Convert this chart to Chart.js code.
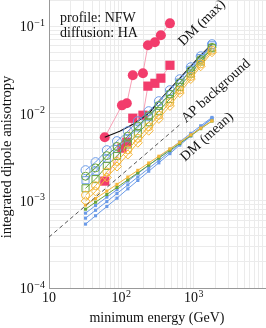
<!DOCTYPE html>
<html>
<head>
<meta charset="utf-8">
<script src="https://cdn.jsdelivr.net/npm/chart.js@4"></script>
<style>
  html, body { margin: 0; padding: 0; background: #fff; }
  canvas { display: block; }
</style>
</head>
<body>
<canvas id="anisoChart" width="266" height="328"></canvas>
<script>
// minimum energies (GeV) of the scan
const energies = [32, 44, 63, 87, 123, 169, 239, 330, 469, 642, 912, 1250, 1790];

// upper bundle (open markers)
const blueCircle   = [2.24e-3, 2.77e-3, 3.80e-3, 4.82e-3, 6.27e-3, 8.16e-3, 0.01063, 0.01384, 0.0185, 0.0247, 0.0339, 0.0453, 0.0622];
const blueSquare   = [1.72e-3, 2.17e-3, 3.03e-3, 3.92e-3, 5.21e-3, 6.92e-3, 9.19e-3, 0.0122, 0.01663, 0.02265, 0.03177, 0.04325, 0.0605];
const greenCircle  = [1.91e-3, 2.38e-3, 3.29e-3, 4.19e-3, 5.50e-3, 7.19e-3, 9.44e-3, 0.01236, 0.01663, 0.02234, 0.0309, 0.0416, 0.0574];
const greenSquare  = [1.39e-3, 1.77e-3, 2.51e-3, 3.27e-3, 4.42e-3, 5.92e-3, 7.94e-3, 0.01064, 0.01469, 0.02023, 0.0287, 0.0395, 0.056];
const yellowCircle = [1.16e-3, 1.49e-3, 2.14e-3, 2.82e-3, 3.83e-3, 5.19e-3, 7.06e-3, 9.55e-3, 0.01337, 0.01858, 0.0266, 0.037, 0.0531];
const yellowDiamond= [9.9e-4, 1.28e-3, 1.85e-3, 2.47e-3, 3.39e-3, 4.62e-3, 6.35e-3, 8.67e-3, 0.01222, 0.01718, 0.02483, 0.0348, 0.0504];

// lower bundle, DM (mean)
const meanYellow = [8.91e-4, 1.06e-3, 1.29e-3, 1.54e-3, 1.87e-3, 2.23e-3, 2.71e-3, 3.24e-3, 3.93e-3, 4.69e-3, 5.69e-3, 6.79e-3, 8.24e-3];
const meanGreen  = [8.01e-4, 9.63e-4, 1.18e-3, 1.42e-3, 1.74e-3, 2.09e-3, 2.56e-3, 3.08e-3, 3.78e-3, 4.54e-3, 5.57e-3, 6.70e-3, 8.20e-3];
const meanBlue1  = [7.21e-4, 8.81e-4, 1.10e-3, 1.34e-3, 1.68e-3, 2.05e-3, 2.55e-3, 3.12e-3, 3.89e-3, 4.74e-3, 5.92e-3, 7.23e-3, 9.02e-3];
const meanBlue2  = [6.32e-4, 7.78e-4, 9.79e-4, 1.21e-3, 1.52e-3, 1.87e-3, 2.35e-3, 2.90e-3, 3.64e-3, 4.49e-3, 5.64e-3, 6.93e-3, 8.71e-3];
const meanBlue3  = [5.40e-4, 6.73e-4, 8.59e-4, 1.07e-3, 1.37e-3, 1.71e-3, 2.18e-3, 2.72e-3, 3.47e-3, 4.34e-3, 5.52e-3, 6.89e-3, 8.84e-3];

// DM (max), pink
const maxEnergies = [59, 102, 119, 144, 199, 233, 291, 352, 470];
const maxCircle   = [0.00535, 0.0124, 0.0131, 0.0275, 0.029, 0.0605, 0.0656, 0.079, 0.108];
const maxSquare   = [1.68e-3, 4.01e-3, 4.69e-3, 8.83e-3, 9.57e-3, 0.0206, 0.0222, 0.0254, 0.0357];

// DM (max) envelope, black
const envEnergies = [59, 95, 154, 248, 341, 470, 646, 916, 1258, 1790];
const envValues   = [0.00535, 0.00627, 0.00774, 0.01035, 0.0142, 0.019, 0.0254, 0.0348, 0.0465, 0.0622];

// AP background, dashed
const apEnergies = [10, 650];
const apValues   = [3.83e-4, 7.5e-3];

const xGrid = [10, 20, 30, 40, 50, 60, 70, 80, 90, 100, 200, 300, 400, 500, 600, 700, 800, 900,
               1000, 2000, 3000, 4000, 5000, 6000, 7000, 8000, 9000, 10000];
const yGrid = [1e-4, 2e-4, 3e-4, 4e-4, 5e-4, 6e-4, 7e-4, 8e-4, 9e-4,
               1e-3, 2e-3, 3e-3, 4e-3, 5e-3, 6e-3, 7e-3, 8e-3, 9e-3,
               0.01, 0.02, 0.03, 0.04, 0.05, 0.06, 0.07, 0.08, 0.09, 0.1, 0.2];
const xPowers = [1, 2, 3];
const yPowers = [-1, -2, -3, -4];

const SERIF = "'Liberation Serif', 'DejaVu Serif', serif";
const BLUE = '#6b9be8';
const GREEN = '#6aa53a';
const YELLOW = '#f4b63a';
const PINK = '#f23c6c';

function pts(xs, ys) {
    return xs.map((x, i) => ({ x, y: ys[i] }));
}

function openSeries(values, color, style, radius) {
    return {
        data: pts(energies, values),
        borderColor: color,
        borderWidth: 1,
        pointStyle: style,
        pointRadius: radius,
        pointBorderColor: color,
        pointBackgroundColor: 'rgba(0,0,0,0)',
        pointBorderWidth: 1,
        tension: 0
    };
}

function meanSeries(values, color) {
    return {
        data: pts(energies, values),
        borderColor: color,
        borderWidth: 1,
        pointStyle: 'rect',
        pointRadius: 2.2,
        pointBorderWidth: 0,
        pointBackgroundColor: color,
        tension: 0
    };
}

const datasets = [
    { data: pts(apEnergies, apValues), borderColor: '#555', borderWidth: 1, borderDash: [4, 3], pointRadius: 0 },
    meanSeries(meanYellow, YELLOW),
    meanSeries(meanGreen, GREEN),
    meanSeries(meanBlue3, BLUE),
    meanSeries(meanBlue2, BLUE),
    meanSeries(meanBlue1, BLUE),
    openSeries(yellowDiamond, YELLOW, 'rectRot', 4.5),
    openSeries(yellowCircle, YELLOW, 'circle', 4),
    openSeries(greenSquare, GREEN, 'rect', 5),
    openSeries(greenCircle, GREEN, 'circle', 4),
    openSeries(blueSquare, BLUE, 'rect', 5),
    openSeries(blueCircle, BLUE, 'circle', 4.5),
    { data: pts(envEnergies, envValues), borderColor: '#111', borderWidth: 1.2, pointRadius: 0 },
    { data: pts(maxEnergies, maxSquare), borderColor: '#f7a0b6', borderWidth: 1, pointStyle: 'rect',
      pointRadius: 6.5, pointBorderWidth: 0, pointBackgroundColor: PINK },
    { data: pts(maxEnergies, maxCircle), borderColor: '#f7a0b6', borderWidth: 1, pointStyle: 'circle',
      pointRadius: 5, pointBorderWidth: 0, pointBackgroundColor: PINK }
];

function drawPower(ctx, x, y, exp, align) {
    const base = '10';
    const sup = exp === 1 ? '' : String(exp).replace('-', '\u2212');
    ctx.font = '14px ' + SERIF;
    const wb = ctx.measureText(base).width;
    ctx.font = '10px ' + SERIF;
    const ws = sup ? ctx.measureText(sup).width + 0.5 : 0;
    let left;
    if (align === 'right') left = x - wb - ws;
    else left = x - (wb + ws) / 2;
    ctx.textAlign = 'left';
    ctx.textBaseline = 'alphabetic';
    ctx.font = '14px ' + SERIF;
    ctx.fillText(base, left, y);
    if (sup) {
        ctx.font = '10px ' + SERIF;
        ctx.fillText(sup, left + wb + 0.5, y - 5.5);
    }
}

function rotatedText(ctx, text, x, y, angle, size) {
    ctx.save();
    ctx.translate(x, y);
    ctx.rotate(angle);
    ctx.font = size + 'px ' + SERIF;
    ctx.textAlign = 'center';
    ctx.textBaseline = 'middle';
    ctx.fillText(text, 0, 0);
    ctx.restore();
}

const labelsPlugin = {
    id: 'labels',
    afterDraw(chart) {
        const ctx = chart.ctx;
        const xs = chart.scales.x;
        const ys = chart.scales.y;
        ctx.save();
        ctx.fillStyle = '#111';
        yPowers.forEach(p => drawPower(ctx, 45, ys.getPixelForValue(Math.pow(10, p)) + 5, p, 'right'));
        xPowers.forEach(p => drawPower(ctx, xs.getPixelForValue(Math.pow(10, p)), 302, p, 'center'));

        ctx.font = '14px ' + SERIF;
        ctx.textAlign = 'left';
        ctx.textBaseline = 'alphabetic';
        ctx.fillText('profile: NFW', 60, 22);
        ctx.fillText('diffusion: HA', 60, 37);

        rotatedText(ctx, 'integrated dipole anisotropy', 7, 157, -Math.PI / 2, 14.5);
        ctx.font = '14px ' + SERIF;
        ctx.textAlign = 'center';
        ctx.fillText('minimum energy (GeV)', 157, 322);

        rotatedText(ctx, 'DM (max)', 202, 23, -44 * Math.PI / 180, 14);
        rotatedText(ctx, 'AP background', 216, 91, -42 * Math.PI / 180, 14);
        rotatedText(ctx, 'DM (mean)', 207, 137, -42 * Math.PI / 180, 14);
        ctx.restore();
    }
};

const chart = new Chart(document.getElementById('anisoChart'), {
    type: 'line',
    data: { datasets },
    options: {
        responsive: false,
        animation: false,
        layout: { padding: 0, autoPadding: false },
        plugins: { legend: { display: false }, tooltip: { enabled: false } },
        scales: {
            x: {
                type: 'logarithmic',
                min: 10,
                max: 10000,
                grid: { color: '#ebebeb', drawTicks: false },
                border: { color: '#999' },
                ticks: { display: false },
                afterBuildTicks: s => { s.ticks = xGrid.map(v => ({ value: v })); },
                afterFit: s => { s.height = 40; }
            },
            y: {
                type: 'logarithmic',
                min: 1e-4,
                max: 0.2,
                grid: { color: '#ebebeb', drawTicks: false },
                border: { color: '#999' },
                ticks: { display: false },
                afterBuildTicks: s => { s.ticks = yGrid.map(v => ({ value: v })); },
                afterFit: s => { s.width = 49; }
            }
        }
    },
    plugins: [labelsPlugin]
});
</script>
</body>
</html>
